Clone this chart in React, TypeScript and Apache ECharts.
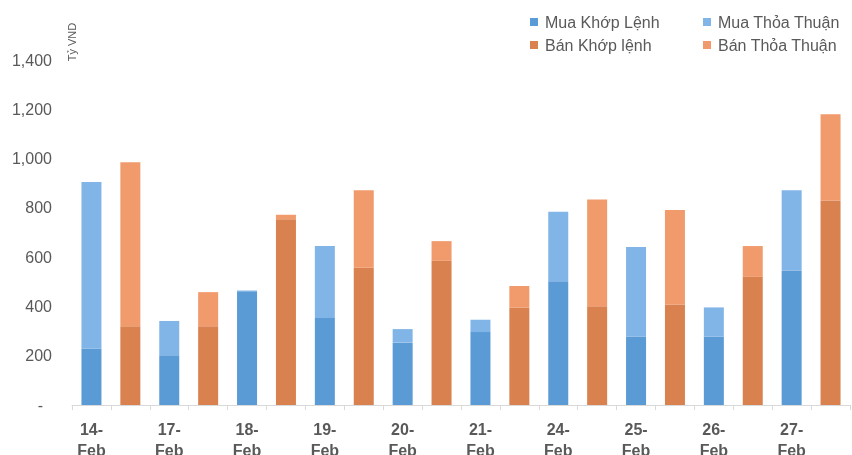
import React, { useEffect, useRef } from "react";
import * as echarts from "echarts";

const dates = ["14-Feb", "17-Feb", "18-Feb", "19-Feb", "20-Feb", "21-Feb", "24-Feb", "25-Feb", "26-Feb", "27-Feb"];
const muaKhopLenh = [229, 202, 462, 353, 253, 296, 502, 277, 277, 545];
const muaThoaThuan = [676, 139, 3, 292, 55, 50, 282, 364, 119, 326];
const banKhopLenh = [320, 320, 754, 557, 585, 396, 401, 408, 520, 830];
const banThoaThuan = [665, 138, 18, 314, 80, 87, 433, 383, 125, 350];
const yTicks = [0, 200, 400, 600, 800, 1000, 1200, 1400];

const FONT = "Liberation Sans";
const GRAY = "#595959";

export default function App() {
  const ref = useRef<HTMLDivElement>(null);
  useEffect(() => {
    if (!ref.current) return;
    const chart = echarts.init(ref.current, undefined, { renderer: "svg" });
    // Two slots per date: buy column, then sell column
    const cats: string[] = [];
    dates.forEach((d) => {
      cats.push(d);
      cats.push(d + "|ban");
    });
    const buySlot = (arr: number[]) => {
      const out: (number | string)[] = [];
      arr.forEach((v) => {
        out.push(v);
        out.push("-");
      });
      return out;
    };
    const sellSlot = (arr: number[]) => {
      const out: (number | string)[] = [];
      arr.forEach((v) => {
        out.push("-");
        out.push(v);
      });
      return out;
    };
    const names = ["Mua Khớp Lệnh", "Mua Thỏa Thuận", "Bán Khớp lệnh", "Bán Thỏa Thuận"];
    const colors = ["#5b9bd5", "#82b5e7", "#d9814f", "#f19b6d"];
    const datas = [buySlot(muaKhopLenh), buySlot(muaThoaThuan), sellSlot(banKhopLenh), sellSlot(banThoaThuan)];
    const legendPos = [
      { left: 530, top: 14 },
      { left: 703, top: 14 },
      { left: 530, top: 37 },
      { left: 703, top: 37 },
    ];
    chart.setOption({
      animation: false,
      color: colors,
      textStyle: { fontFamily: FONT },
      grid: { left: 72, right: 2, top: 60, bottom: 50, containLabel: false, outerBoundsMode: "none" },
      legend: names.map((n, i) => ({
        data: [n],
        left: legendPos[i].left,
        top: legendPos[i].top,
        padding: 0,
        itemWidth: 8,
        itemHeight: 8,
        icon: "rect",
        selectedMode: false,
        textStyle: { color: GRAY, fontSize: 16, fontFamily: FONT, padding: [0, 0, 0, 2] },
      })),
      xAxis: {
        type: "category",
        data: cats,
        boundaryGap: true,
        axisLine: { show: true, lineStyle: { color: "#d9d9d9", width: 1 } },
        axisTick: { show: true, interval: 0, length: 5, lineStyle: { color: "#d9d9d9" } },
        axisLabel: {
          interval: 0,
          margin: 14,
          color: GRAY,
          fontSize: 16,
          fontWeight: "bold",
          fontFamily: FONT,
          lineHeight: 21,
          formatter: (v: string) => (v.indexOf("|") >= 0 ? "" : v.replace("-", "-\n")),
        },
        splitLine: { show: false },
      },
      yAxis: {
        type: "value",
        min: yTicks[0],
        max: yTicks[yTicks.length - 1],
        interval: 200,
        axisLine: { show: false },
        axisTick: { show: false },
        splitLine: { show: false },
        axisLabel: {
          margin: 20,
          color: GRAY,
          fontSize: 16,
          fontFamily: FONT,
          formatter: (v: number) => (v === 0 ? "-  " : v.toLocaleString("en-US")),
        },
      },
      graphic: [
        {
          type: "text",
          x: 72,
          y: 42,
          rotation: Math.PI / 2,
          style: {
            text: "Tỷ VND",
            fill: GRAY,
            fontSize: 11,
            fontFamily: FONT,
            align: "center",
            verticalAlign: "middle",
          },
        },
      ],
      series: names.map((n, i) => ({
        name: n,
        type: "bar",
        stack: "all",
        barWidth: 20,
        data: datas[i],
        itemStyle: { color: colors[i] },
      })),
    });
    return () => chart.dispose();
  }, []);
  return <div ref={ref} style={{ position: "fixed", left: 0, top: 0, width: 852, height: 455 }} />;
}
